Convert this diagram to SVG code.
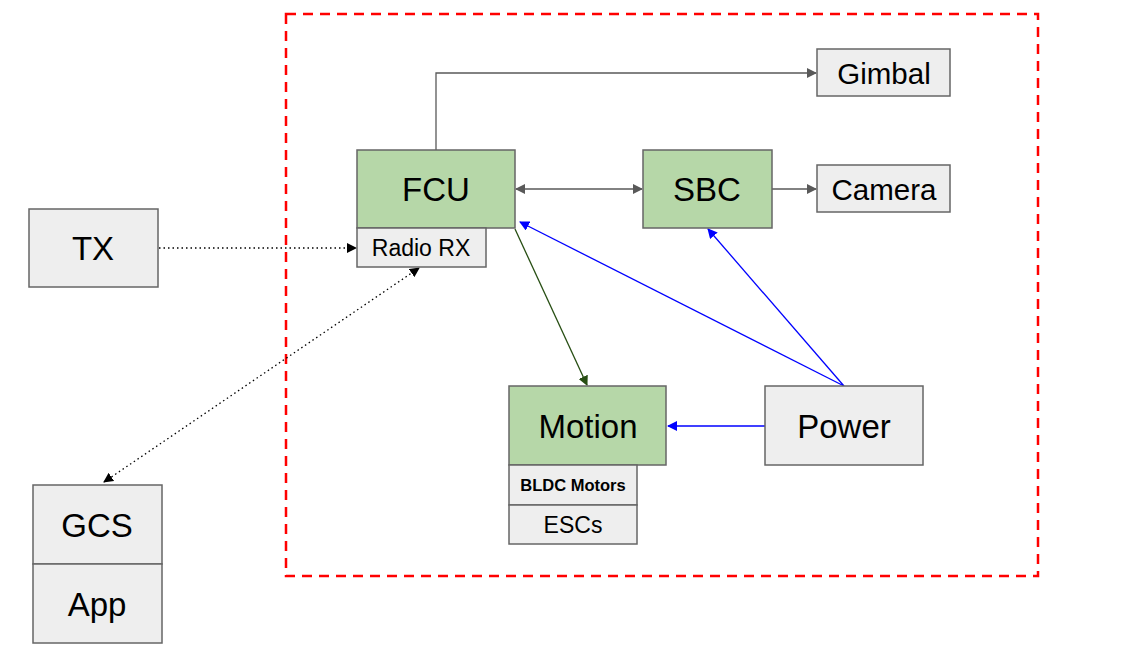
<svg xmlns="http://www.w3.org/2000/svg" width="1126" height="652" viewBox="0 0 1126 652">
<style>
.g{fill:#b6d7a8;stroke:#666;stroke-width:1.5}
.w{fill:#eeeeee;stroke:#666;stroke-width:1.5}
text{font-family:"Liberation Sans",Arial,sans-serif;fill:#000;text-anchor:middle;dominant-baseline:central}
.c{fill:none;stroke-width:1.3}
</style>
<defs>
<marker id="ag" viewBox="0 0 10 10" refX="9" refY="5" markerWidth="10" markerHeight="10" markerUnits="userSpaceOnUse" orient="auto-start-reverse"><path d="M0,0L10,5L0,10z" fill="#595959"/></marker>
<marker id="ab" viewBox="0 0 10 10" refX="9" refY="5" markerWidth="10" markerHeight="10" markerUnits="userSpaceOnUse" orient="auto-start-reverse"><path d="M0,0L10,5L0,10z" fill="#0000ff"/></marker>
<marker id="an" viewBox="0 0 10 10" refX="9" refY="5" markerWidth="10" markerHeight="10" markerUnits="userSpaceOnUse" orient="auto-start-reverse"><path d="M0,0L10,5L0,10z" fill="#274e13"/></marker>
<marker id="ak" viewBox="0 0 10 10" refX="9" refY="5" markerWidth="10" markerHeight="10" markerUnits="userSpaceOnUse" orient="auto-start-reverse"><path d="M0,0L10,5L0,10z" fill="#000"/></marker>
</defs>
<rect id="boundary" x="286" y="14" width="752" height="562" fill="none" stroke="#ff0000" stroke-width="2.5" stroke-dasharray="10,7"/>
<g id="connectors">
<path class="c" d="M436,150V73H816" stroke="#595959" marker-end="url(#ag)"/>
<path class="c" d="M516,189H642" stroke="#595959" marker-start="url(#ag)" marker-end="url(#ag)"/>
<path class="c" d="M772,189H816" stroke="#595959" marker-end="url(#ag)"/>
<path class="c" d="M159,248H356" stroke="#000" stroke-dasharray="1.5,3" marker-end="url(#ak)"/>
<path class="c" d="M104,482L419,268" stroke="#000" stroke-dasharray="1.5,3" marker-start="url(#ak)" marker-end="url(#ak)"/>
<path class="c" d="M515,229L587,385" stroke="#274e13" marker-end="url(#an)"/>
<path class="c" d="M844,386L520,222" stroke="#0000ff" marker-end="url(#ab)"/>
<path class="c" d="M844,386L708,229" stroke="#0000ff" marker-end="url(#ab)"/>
<path class="c" d="M765,426H668" stroke="#0000ff" marker-end="url(#ab)"/>
</g>
<g id="fcu"><rect class="g" x="357" y="150" width="158" height="78"/><text x="436" y="189" font-size="33">FCU</text></g>
<g id="radio-rx"><rect class="w" x="357" y="228" width="129" height="39"/><text x="421" y="248" font-size="23">Radio RX</text></g>
<g id="sbc"><rect class="g" x="643" y="150" width="129" height="78"/><text x="707" y="189" font-size="33">SBC</text></g>
<g id="gimbal"><rect class="w" x="817" y="49" width="133" height="47"/><text x="884" y="73" font-size="29.5">Gimbal</text></g>
<g id="camera"><rect class="w" x="817" y="165" width="133" height="47"/><text x="884" y="189" font-size="29.5">Camera</text></g>
<g id="tx"><rect class="w" x="29" y="209" width="129" height="78"/><text x="93" y="248" font-size="33">TX</text></g>
<g id="gcs"><rect class="w" x="33" y="485" width="129" height="79"/><text x="97" y="525" font-size="33">GCS</text></g>
<g id="app"><rect class="w" x="33" y="564" width="129" height="79"/><text x="97" y="604" font-size="33">App</text></g>
<g id="motion"><rect class="g" x="509" y="386" width="157" height="79"/><text x="588" y="426" font-size="33">Motion</text></g>
<g id="bldc"><rect class="w" x="509" y="465" width="128" height="40"/><text x="573" y="485" font-size="16.5" font-weight="bold">BLDC Motors</text></g>
<g id="escs"><rect class="w" x="509" y="505" width="128" height="39"/><text x="573" y="525" font-size="23">ESCs</text></g>
<g id="power"><rect class="w" x="765" y="386" width="158" height="79"/><text x="844" y="426" font-size="33">Power</text></g>
</svg>
